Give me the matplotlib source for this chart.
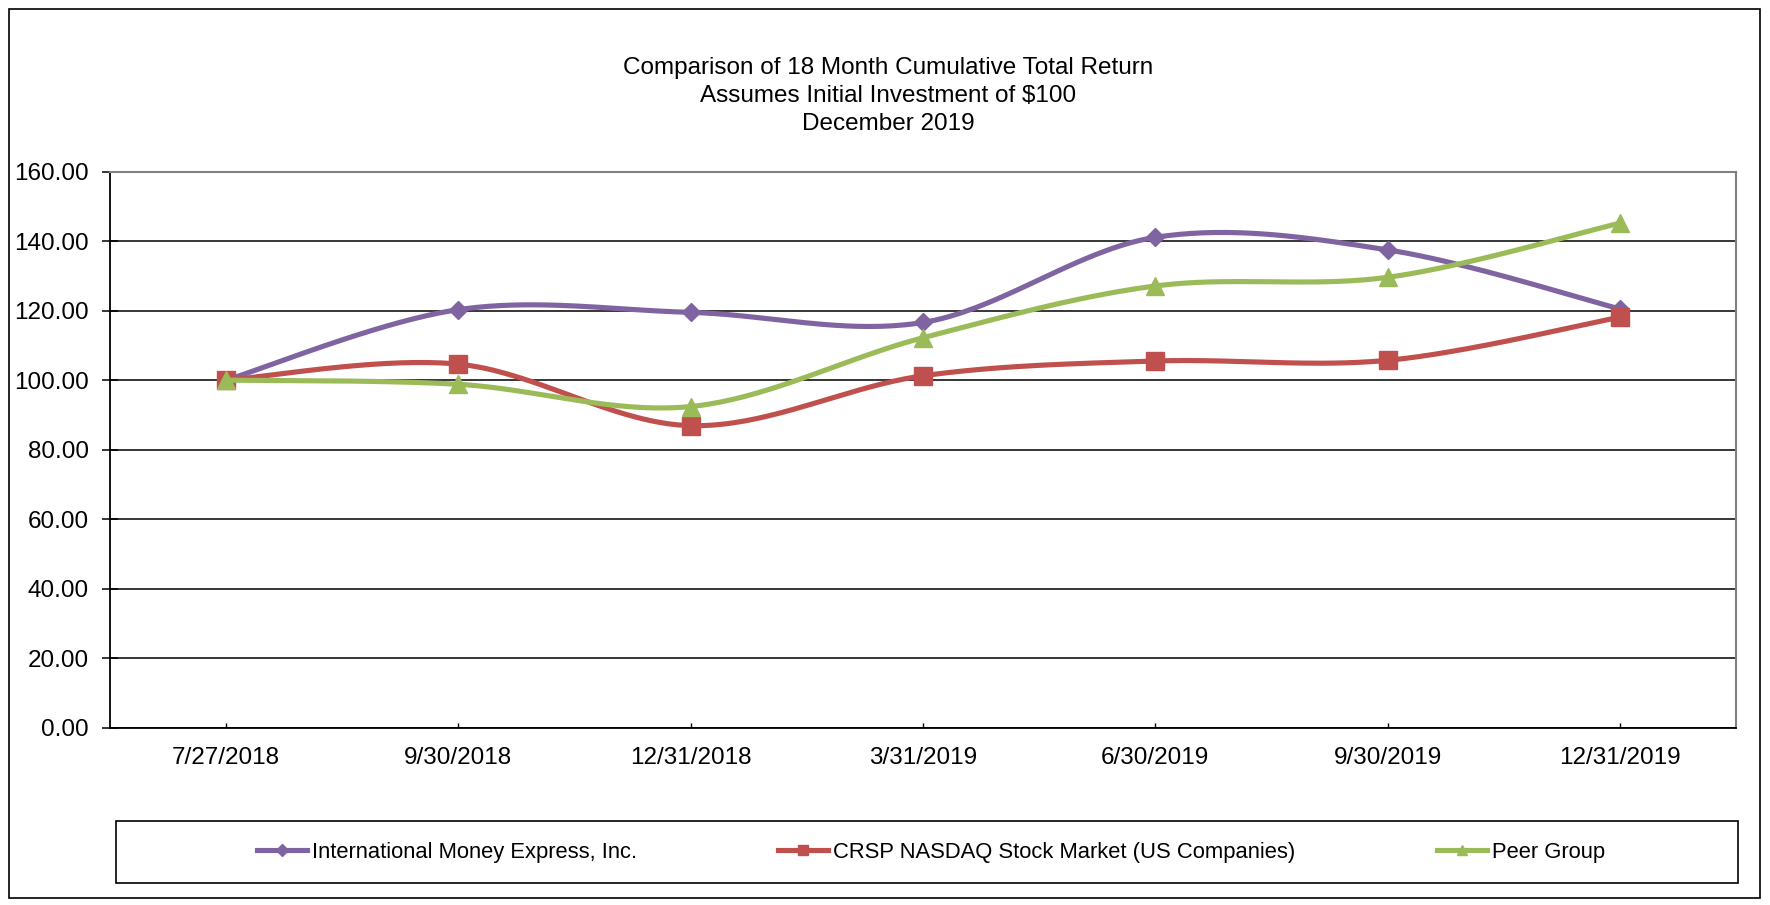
import numpy as np
import matplotlib.pyplot as plt
from matplotlib.lines import Line2D
from matplotlib.patches import Rectangle

plt.rcParams['font.family'] = ['Liberation Sans', 'DejaVu Sans']

dates = ['7/27/2018', '9/30/2018', '12/31/2018', '3/31/2019',
         '6/30/2019', '9/30/2019', '12/31/2019']
intermex = [100.0, 120.3, 119.5, 116.6, 141.1, 137.5, 120.5]
crsp_nasdaq = [100.0, 104.6, 86.9, 101.25, 105.5, 105.7, 118.1]
peer_group = [100.0, 98.8, 92.4, 112.2, 127.1, 129.6, 145.2]

names = ['International Money Express, Inc.',
         'CRSP NASDAQ Stock Market (US Companies)',
         'Peer Group']
colors = ['#8064A2', '#C0504D', '#9BBB59']
markers = [('D', 8.7), ('s', 13), ('^', 13)]
legend_ms = [6.2, 7.8, 7.8]
yticks = [0, 20, 40, 60, 80, 100, 120, 140, 160]


def smooth(xs, ys, n=40):
    # excel style smoothed line: bezier through the points
    xs = np.asarray(xs, float)
    ys = np.asarray(ys, float)
    px = np.concatenate([[xs[0]], xs, [xs[-1]]])
    py = np.concatenate([[ys[0]], ys, [ys[-1]]])
    t = np.linspace(0, 1, n)
    out_x, out_y = [], []
    for i in range(1, len(px) - 2):
        p0 = np.array([px[i], py[i]])
        p3 = np.array([px[i + 1], py[i + 1]])
        c1 = p0 + (p3 - np.array([px[i - 1], py[i - 1]])) / 6
        c2 = p3 - (np.array([px[i + 2], py[i + 2]]) - p0) / 6
        b = (np.outer((1 - t) ** 3, p0) + np.outer(3 * (1 - t) ** 2 * t, c1)
             + np.outer(3 * (1 - t) * t ** 2, c2) + np.outer(t ** 3, p3))
        out_x.extend(b[:, 0])
        out_y.extend(b[:, 1])
    return out_x, out_y


W, H = 1770, 905
fig = plt.figure(figsize=(W / 100, H / 100), dpi=100)
ax = fig.add_axes([110 / W, 1 - 727.5 / H, 1626 / W, (727.5 - 171.7) / H])

x = np.arange(len(dates))
for vals, c, (m, ms) in zip([intermex, crsp_nasdaq, peer_group], colors, markers):
    sx, sy = smooth(x, vals)
    ax.plot(sx, sy, color=c, lw=3.7, solid_capstyle='round', zorder=3)
    ax.plot(x, vals, ls='none', marker=m, ms=ms, color=c, mec=c, zorder=3)

ax.set_xlim(-0.5, len(dates) - 0.5)
ax.set_ylim(0, 160)
ax.set_yticks(yticks)
ax.set_yticklabels(['%.2f' % v for v in yticks])
ax.set_xticks(x)
ax.set_xticklabels(dates)
ax.tick_params(axis='y', direction='inout', length=11.5, width=1.1,
               pad=9.5, labelsize=17.5)
ax.tick_params(axis='x', direction='in', length=3.6, width=1,
               pad=14, labelsize=17.5)
ax.grid(axis='y', color='black', lw=1.1, zorder=1)
ax.set_axisbelow(True)
for s in ['left', 'bottom']:
    ax.spines[s].set_color('black')
    ax.spines[s].set_linewidth(1.3)
for s in ['top', 'right']:
    ax.spines[s].set_color('#808080')
    ax.spines[s].set_linewidth(1.5)

fig.text(0.502, 1 - 96 / H,
         'Comparison of 18 Month Cumulative Total Return\n'
         'Assumes Initial Investment of $100\nDecember 2019',
         ha='center', va='center', multialignment='center',
         fontsize=17.5, linespacing=1.38)

# legend box and outer border
fig.patches.append(Rectangle((116 / W, 1 - 883 / H), 1622 / W, 62 / H,
                             transform=fig.transFigure, fill=False,
                             ec='black', lw=1.2))
fig.patches.append(Rectangle((9 / W, 1 - 898 / H), 1751 / W, 889 / H,
                             transform=fig.transFigure, fill=False,
                             ec='black', lw=1.2))

handles = [Line2D([], [], color=c, lw=3.7, marker=m, ms=lms, mec=c)
           for c, (m, _), lms in zip(colors, markers, legend_ms)]
fig.legend(handles, names, loc='center', bbox_to_anchor=(931 / W, 1 - 852 / H),
           ncol=3, frameon=False, fontsize=15.8,
           handlelength=2.28, handletextpad=0.23, columnspacing=6.45)

fig.savefig('out.png', dpi=100)
